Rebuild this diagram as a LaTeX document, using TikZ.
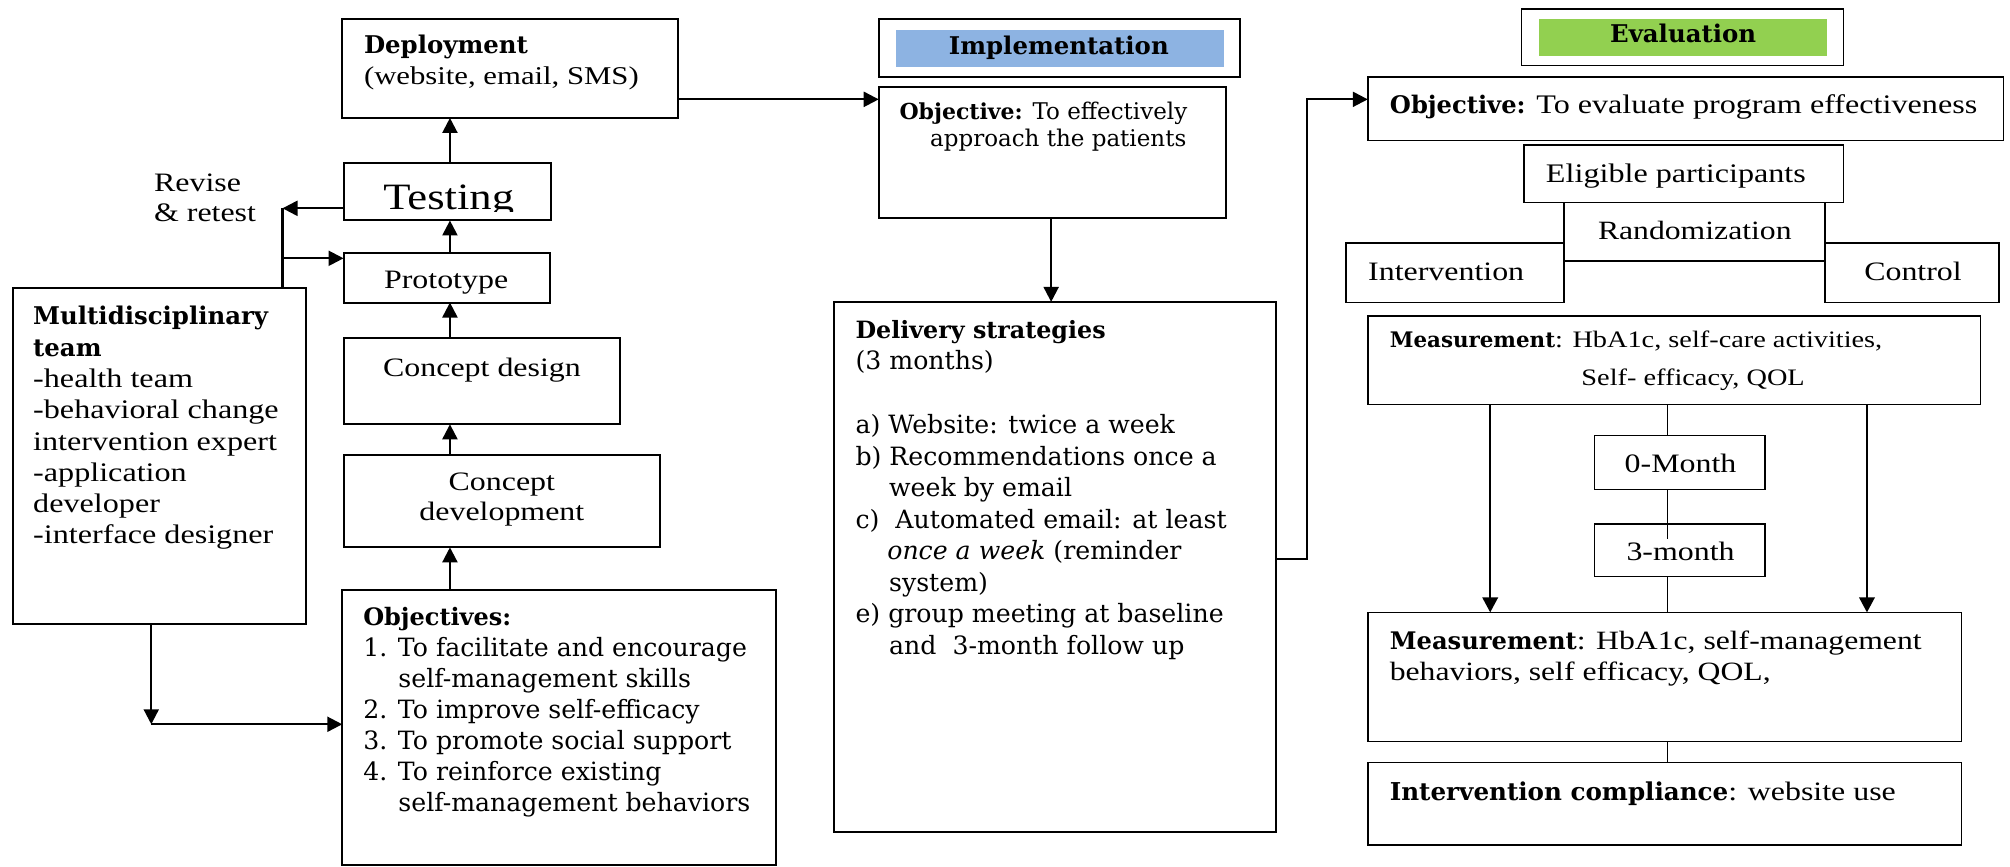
\documentclass[tikz,border=0pt]{standalone}
\usepackage{fontspec}
\setmainfont{DejaVu Serif}
\newfontfamily\nr[FakeStretch=1.2]{Liberation Serif}
\usetikzlibrary{arrows.meta,fit,calc}
\definecolor{implblue}{HTML}{8DB3E2}
\definecolor{evalgreen}{HTML}{92D050}
\newcommand\fs[1]{\fontsize{#1}{#1}\selectfont}
% box through two corner points
\newcommand\bx[4][]{\node[boxst,#1,fit={(#3) (#4)}] (#2) {};}
% one line of text placed by its baseline
\newcommand\tl[4][]{\node[txtline,#1] (#2) at (#3) {#4};}
\begin{document}
\begin{tikzpicture}[x=0.641pt,y=-0.641pt,
  boxst/.style={draw,line width=1pt,inner sep=0pt,outer sep=0pt},
  evbox/.style={line width=0.75pt},
  band/.style={inner sep=0pt,outer sep=0pt},
  txtline/.style={anchor=base west,inner sep=0pt,outer sep=0pt},
  arr/.style={line width=1.1pt,-{Triangle[length=7.5pt,width=7.5pt]}},
  evarr/.style={line width=0.9pt,-{Triangle[length=7.5pt,width=7.8pt]}},
  link/.style={line width=1.1pt},
  thinlink/.style={line width=0.55pt}]
\useasboundingbox (0,0) rectangle (1568,676);

% ---------------- development column ----------------
\bx{dep}{267,15}{529,92}
\bx{tst}{268,127.5}{430,172}
\bx{pro}{268,197}{429,236}
\bx{cdes}{268,264}{484,331}
\bx{cdev}{268,355}{515,427}
\bx{objs}{267,460}{605,674.5}
\bx{mdt}{10,225}{239,487}

\tl{deptitle}{284,42}{\bfseries\fs{12.2}Deployment}
\tl{depsub}{284,66.3}{\nr\fs{12.8}(website, email, SMS)}
\begin{scope}
  \clip (268,128) rectangle (430,165);
  \tl[anchor=base]{tsttext}{350,163.6}{\nr\fs{18.6}Testing}
\end{scope}
\tl[anchor=base]{protext}{348,224.8}{\nr\fs{13.3}Prototype}
\tl[anchor=base]{cdestext}{376,293.8}{\nr\fs{13.3}Concept design}
\tl[anchor=base]{cdevtexta}{391.5,382.8}{\nr\fs{13.3}Concept}
\tl[anchor=base]{cdevtextb}{391.5,406.2}{\nr\fs{13.3}development}
\tl{revisea}{120.2,149.5}{\nr\fs{13.3}Revise}
\tl{reviseb}{120.2,173}{\nr\fs{13.3}\&\ retest}

\tl{mdta}{25.9,253.5}{\bfseries\fs{12.2}Multidisciplinary}
\tl{mdtb}{25.9,277.9}{\bfseries\fs{12.2}team}
\tl{mdtc}{25.9,302.3}{\nr\fs{13.4}-health team}
\tl{mdtd}{25.9,326.7}{\nr\fs{13.4}-behavioral change}
\tl{mdte}{25.9,351.1}{\nr\fs{13.4}intervention expert}
\tl{mdtf}{25.9,375.5}{\nr\fs{13.4}-application}
\tl{mdtg}{25.9,399.9}{\nr\fs{13.4}developer}
\tl{mdth}{25.9,424.3}{\nr\fs{13.4}-interface designer}

\tl{obja}{283.4,487.6}{\bfseries\fs{12}Objectives:}
\tl{objb}{283.4,511.9}{\fs{12.6}1. To facilitate and encourage}
\tl{objc}{310.8,536.2}{\fs{12.6}self-management skills}
\tl{objd}{283.4,560.5}{\fs{12.6}2. To improve self-efficacy}
\tl{obje}{283.4,584.8}{\fs{12.6}3. To promote social support}
\tl{objf}{283.4,609.1}{\fs{12.6}4. To reinforce existing}
\tl{objg}{310.8,633.4}{\fs{12.6}self-management behaviors}

% connectors of the development column
\coordinate (spine) at (351,0);
\draw[arr] (spine |- tst.north) -- (spine |- dep.south);
\draw[arr] (spine |- pro.north) -- (spine |- tst.south);
\draw[arr] (spine |- cdes.north) -- (spine |- pro.south);
\draw[arr] (spine |- cdev.north) -- (spine |- cdes.south);
\draw[arr] (spine |- objs.north) -- (spine |- cdev.south);

\coordinate (rv) at (220.4,162.5);
\coordinate (rp) at (220.4,201.5);
\draw[arr] (tst.west |- rv) -- (rv);
\draw[link] (rv) -- (rv |- mdt.north);
\draw[arr] (rp) -- (rp -| pro.west);

\coordinate (mc) at (118,565);
\draw[arr] (mc |- mdt.south) -- (mc);
\draw[arr] (mc) -- (mc -| objs.west);

% ---------------- implementation column ----------------
\bx{ihead}{685.5,15}{967,60}
\node[band,fill=implblue,fit={(699,23.5) (955,52)}] (iband) {};
\tl[anchor=base]{iheadtext}{826,42.9}{\bfseries\fs{12.2}Implementation}
\bx{iobj}{685.5,68}{956,170}
\bx{del}{650.5,235.5}{995.5,649}

\tl{iobja}{701.7,93.6}{{\bfseries\fs{11}Objective:}{\fs{11.5} To effectively}}
\tl{iobjb}{725.6,114.4}{\fs{11.5}approach the patients}

\tl{dela}{667.4,263.7}{\bfseries\fs{11.9}Delivery strategies}
\tl{delb}{667.4,288.3}{\fs{12.6}(3 months)}
\tl{delc}{667.4,338.3}{\fs{12.6}a) Website: twice a week}
\tl{deld}{667.4,362.9}{\fs{12.6}b) Recommendations once a}
\tl{dele}{693.6,387.5}{\fs{12.6}week by email}
\tl{delf}{667.4,412.1}{\fs{12.6}c)\ \ Automated email: at least}
\tl{delg}{692.2,436.7}{\fs{12.6}\textit{once a week} (reminder}
\tl{delh}{693.6,461.3}{\fs{12.6}system)}
\tl{deli}{667.4,485.9}{\fs{12.6}e) group meeting at baseline}
\tl{delj}{693.6,510.5}{\fs{12.6}and\ \ 3-month follow up}

\coordinate (ia) at (600,77.5);
\draw[arr] (dep.east |- ia) -- (ia -| iobj.west);
\coordinate (dx) at (820,0);
\draw[arr] (dx |- iobj.south) -- (dx |- del.north);

% ---------------- evaluation column ----------------
\bx[evbox]{ehead}{1187,7}{1438,51}
\node[band,fill=evalgreen,fit={(1200.5,14.5) (1425.5,43.4)}] (eband) {};
\tl[anchor=base]{eheadtext}{1313,33.3}{\bfseries\fs{12.2}Evaluation}
\bx[evbox]{eobj}{1067,60}{1563,109.5}
\bx[evbox]{elig}{1189,113}{1438,158}
\bx[evbox]{rand}{1220,158}{1423.5,203.5}
\bx[evbox]{intv}{1050,189.5}{1220,236}
\bx[evbox]{ctrl}{1423.5,189.5}{1559.5,236}
\bx[evbox]{mone}{1067,246.5}{1545,315.4}
\bx[evbox]{mzero}{1244,339.9}{1377,381.7}
\bx[evbox]{mthree}{1244,408.8}{1377,449.9}
\bx[evbox]{mtwo}{1067,477.7}{1530,578.6}
\bx[evbox]{comp}{1067,594.7}{1530,659.2}

\tl{eobjtext}{1084.3,88.4}{{\bfseries\fs{12.1}Objective:}{\nr\fs{13.4} To evaluate program effectiveness}}
\tl{eligtext}{1206,142.5}{\nr\fs{13.4}Eligible participants}
\tl{randtext}{1246.6,186.7}{\nr\fs{13.2}Randomization}
\tl{intvtext}{1067.3,219.2}{\nr\fs{13.3}Intervention}
\tl{ctrltext}{1454.3,219.2}{\nr\fs{13.3}Control}
\tl{monea}{1084.2,271.4}{{\bfseries\fs{10.7}Measurement}{\nr\fs{11.8}: HbA1c, self-care activities,}}
\tl{moneb}{1233.7,300.7}{\nr\fs{11.8}Self- efficacy, QOL}
\tl[anchor=base]{mzerotext}{1311,368.7}{\nr\fs{13.3}0-Month}
\tl[anchor=base]{mthreetext}{1311,437.2}{\nr\fs{13.3}3-month}
\tl{mtwoa}{1084.2,506.5}{{\bfseries\fs{12.1}Measurement}{\nr\fs{13.2}: HbA1c, self-management}}
\tl{mtwob}{1084.2,530.5}{\nr\fs{13.2}behaviors, self efficacy, QOL,}
\tl{comptext}{1084.2,624.6}{{\bfseries\fs{12.3}Intervention compliance}{\nr\fs{13.3}: website use}}

\coordinate (ej) at (1019.6,436);
\coordinate (ek) at (1019.6,77.5);
\draw[arr] (del.east |- ej) -- (ej) -- (ek) -- (ek -| eobj.west);

\coordinate (axl) at (1162.5,0);
\coordinate (axr) at (1456.4,0);
\coordinate (axc) at (1301,0);
\draw[evarr] (axl |- mone.south) -- (axl |- mtwo.north);
\draw[evarr] (axr |- mone.south) -- (axr |- mtwo.north);
\draw[thinlink] (axc |- mone.south) -- (axc |- mzero.north);
\draw[thinlink] (axc |- mzero.south) -- ($(axc |- mthree.north)+(0,11.9)$);
\draw[thinlink] (axc |- mthree.south) -- (axc |- mtwo.north);
\draw[thinlink] (axc |- mtwo.south) -- (axc |- comp.north);
\end{tikzpicture}
\end{document}
